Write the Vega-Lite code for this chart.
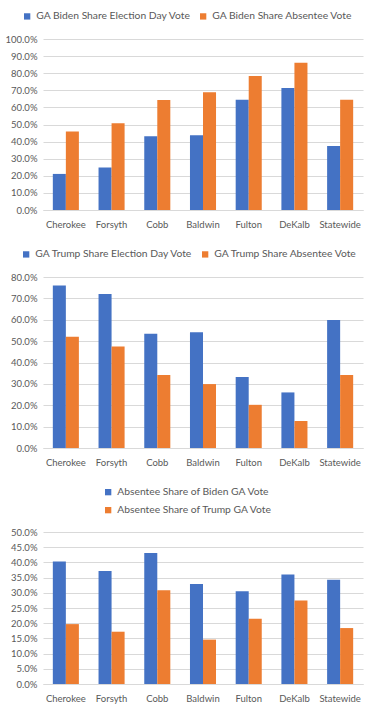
{
  "$schema": "https://vega.github.io/schema/vega-lite/v6.json",
  "padding": {"left": 5, "top": 11, "right": 10, "bottom": 5},
  "config": {
    "font": "Lato",
    "view": {"stroke": null},
    "axis": {"labelColor": "#595959", "labelFontSize": 9.5, "title": null, "ticks": false, "domain": false, "grid": false},
    "axisY": {"grid": true, "gridColor": "#D9D9D9", "labelPadding": 6},
    "axisX": {"domain": true, "domainColor": "#D9D9D9", "labelPadding": 9, "labelAngle": 0},
    "legend": {"orient": "none", "title": null, "labelFontSize": 10.3, "labelColor": "#595959", "labelLimit": 400, "symbolType": "square", "symbolSize": 40, "symbolStrokeWidth": 0, "columnPadding": 7, "labelOffset": 4},
    "concat": {"spacing": 20}
  },
  "datasets": {
    "biden": [
      {"county": "Cherokee", "series": "GA Biden Share Election Day Vote", "value": 0.211},
      {"county": "Cherokee", "series": "GA Biden Share Absentee Vote", "value": 0.459},
      {"county": "Forsyth", "series": "GA Biden Share Election Day Vote", "value": 0.248},
      {"county": "Forsyth", "series": "GA Biden Share Absentee Vote", "value": 0.508},
      {"county": "Cobb", "series": "GA Biden Share Election Day Vote", "value": 0.432},
      {"county": "Cobb", "series": "GA Biden Share Absentee Vote", "value": 0.643},
      {"county": "Baldwin", "series": "GA Biden Share Election Day Vote", "value": 0.4375},
      {"county": "Baldwin", "series": "GA Biden Share Absentee Vote", "value": 0.689},
      {"county": "Fulton", "series": "GA Biden Share Election Day Vote", "value": 0.645},
      {"county": "Fulton", "series": "GA Biden Share Absentee Vote", "value": 0.783},
      {"county": "DeKalb", "series": "GA Biden Share Election Day Vote", "value": 0.713},
      {"county": "DeKalb", "series": "GA Biden Share Absentee Vote", "value": 0.861},
      {"county": "Statewide", "series": "GA Biden Share Election Day Vote", "value": 0.375},
      {"county": "Statewide", "series": "GA Biden Share Absentee Vote", "value": 0.645}
    ],
    "trump": [
      {"county": "Cherokee", "series": "GA Trump Share Election Day Vote", "value": 0.760},
      {"county": "Cherokee", "series": "GA Trump Share Absentee Vote", "value": 0.521},
      {"county": "Forsyth", "series": "GA Trump Share Election Day Vote", "value": 0.721},
      {"county": "Forsyth", "series": "GA Trump Share Absentee Vote", "value": 0.475},
      {"county": "Cobb", "series": "GA Trump Share Election Day Vote", "value": 0.534},
      {"county": "Cobb", "series": "GA Trump Share Absentee Vote", "value": 0.341},
      {"county": "Baldwin", "series": "GA Trump Share Election Day Vote", "value": 0.542},
      {"county": "Baldwin", "series": "GA Trump Share Absentee Vote", "value": 0.299},
      {"county": "Fulton", "series": "GA Trump Share Election Day Vote", "value": 0.332},
      {"county": "Fulton", "series": "GA Trump Share Absentee Vote", "value": 0.202},
      {"county": "DeKalb", "series": "GA Trump Share Election Day Vote", "value": 0.260},
      {"county": "DeKalb", "series": "GA Trump Share Absentee Vote", "value": 0.126},
      {"county": "Statewide", "series": "GA Trump Share Election Day Vote", "value": 0.599},
      {"county": "Statewide", "series": "GA Trump Share Absentee Vote", "value": 0.342}
    ],
    "absentee": [
      {"county": "Cherokee", "series": "Absentee Share of Biden GA Vote", "value": 0.403},
      {"county": "Cherokee", "series": "Absentee Share of Trump GA Vote", "value": 0.197},
      {"county": "Forsyth", "series": "Absentee Share of Biden GA Vote", "value": 0.372},
      {"county": "Forsyth", "series": "Absentee Share of Trump GA Vote", "value": 0.172},
      {"county": "Cobb", "series": "Absentee Share of Biden GA Vote", "value": 0.431},
      {"county": "Cobb", "series": "Absentee Share of Trump GA Vote", "value": 0.308},
      {"county": "Baldwin", "series": "Absentee Share of Biden GA Vote", "value": 0.329},
      {"county": "Baldwin", "series": "Absentee Share of Trump GA Vote", "value": 0.146},
      {"county": "Fulton", "series": "Absentee Share of Biden GA Vote", "value": 0.305},
      {"county": "Fulton", "series": "Absentee Share of Trump GA Vote", "value": 0.215},
      {"county": "DeKalb", "series": "Absentee Share of Biden GA Vote", "value": 0.360},
      {"county": "DeKalb", "series": "Absentee Share of Trump GA Vote", "value": 0.275},
      {"county": "Statewide", "series": "Absentee Share of Biden GA Vote", "value": 0.343},
      {"county": "Statewide", "series": "Absentee Share of Trump GA Vote", "value": 0.184}
    ]
  },
  "resolve": {"scale": {"x": "independent", "xOffset": "independent", "y": "independent", "color": "independent"}, "legend": {"color": "independent"}},
  "vconcat": [
    {
      "width": 320, "height": 171,
      "data": {"name": "biden"},
      "mark": {"type": "bar"},
      "encoding": {
        "x": {"field": "county", "type": "nominal", "sort": null, "scale": {"paddingInner": 0.43, "paddingOuter": 0.215}},
        "xOffset": {"field": "series", "type": "nominal", "sort": null, "scale": {"paddingInner": 0, "paddingOuter": 0}},
        "y": {"field": "value", "type": "quantitative", "scale": {"domain": [0, 1], "nice": false}, "axis": {"format": ".1%", "values": [0, 0.1, 0.2, 0.3, 0.4, 0.5, 0.6, 0.7, 0.8, 0.9, 1.0]}},
        "color": {"field": "series", "type": "nominal", "sort": null, "scale": {"domain": ["GA Biden Share Election Day Vote", "GA Biden Share Absentee Vote"], "range": ["#4472C4", "#ED7D31"]}, "legend": {"direction": "horizontal", "legendX": -21, "legendY": -28}}
      }
    },
    {
      "width": 320, "height": 171,
      "data": {"name": "trump"},
      "mark": {"type": "bar"},
      "encoding": {
        "x": {"field": "county", "type": "nominal", "sort": null, "scale": {"paddingInner": 0.43, "paddingOuter": 0.215}},
        "xOffset": {"field": "series", "type": "nominal", "sort": null, "scale": {"paddingInner": 0, "paddingOuter": 0}},
        "y": {"field": "value", "type": "quantitative", "scale": {"domain": [0, 0.8], "nice": false}, "axis": {"format": ".1%", "values": [0, 0.1, 0.2, 0.3, 0.4, 0.5, 0.6, 0.7, 0.8]}},
        "color": {"field": "series", "type": "nominal", "sort": null, "scale": {"domain": ["GA Trump Share Election Day Vote", "GA Trump Share Absentee Vote"], "range": ["#4472C4", "#ED7D31"]}, "legend": {"direction": "horizontal", "legendX": -22, "legendY": -28}}
      }
    },
    {
      "width": 320, "height": 152,
      "data": {"name": "absentee"},
      "mark": {"type": "bar"},
      "encoding": {
        "x": {"field": "county", "type": "nominal", "sort": null, "scale": {"paddingInner": 0.43, "paddingOuter": 0.215}},
        "xOffset": {"field": "series", "type": "nominal", "sort": null, "scale": {"paddingInner": 0, "paddingOuter": 0}},
        "y": {"field": "value", "type": "quantitative", "scale": {"domain": [0, 0.5], "nice": false}, "axis": {"format": ".1%", "values": [0, 0.05, 0.1, 0.15, 0.2, 0.25, 0.3, 0.35, 0.4, 0.45, 0.5]}},
        "color": {"field": "series", "type": "nominal", "sort": null, "scale": {"domain": ["Absentee Share of Biden GA Vote", "Absentee Share of Trump GA Vote"], "range": ["#4472C4", "#ED7D31"]}, "legend": {"direction": "vertical", "rowPadding": 7, "legendX": 60, "legendY": -45}}
      }
    }
  ]
}
